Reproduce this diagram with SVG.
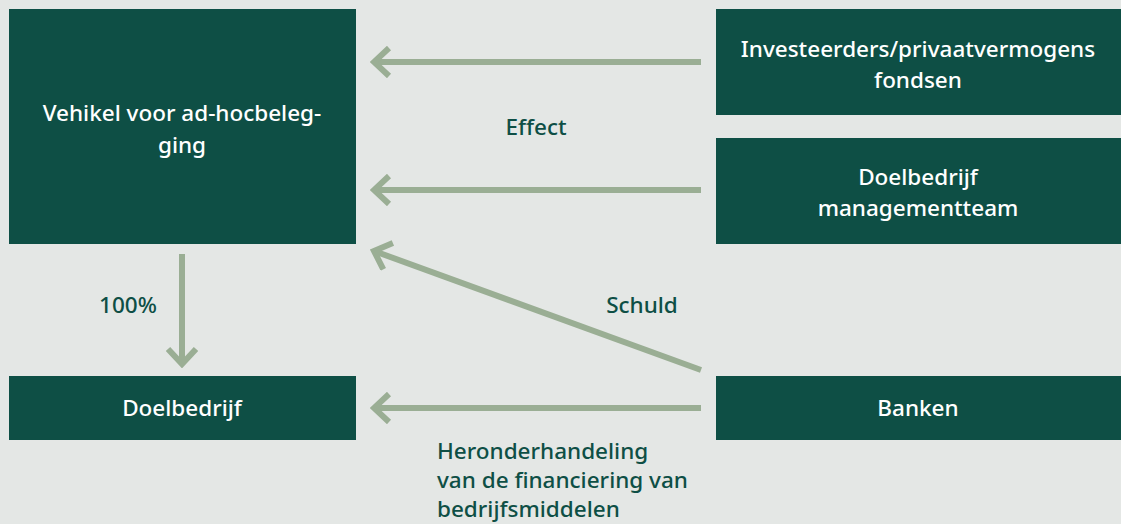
<svg xmlns="http://www.w3.org/2000/svg" width="1121" height="524" viewBox="0 0 1121 524">
<style>
.box{fill:#0e4f45}
.bt{fill:#ffffff;font-family:"Noto Sans",sans-serif;font-size:22.5px;font-weight:500;text-anchor:middle}
.lt{fill:#0e4f45;font-family:"Noto Sans",sans-serif;font-size:22.5px;font-weight:500}
.c{stroke:#9aae94;stroke-width:6;fill:none}
</style>
<defs>
<marker id="ah" markerUnits="userSpaceOnUse" markerWidth="24" markerHeight="32" refX="20" refY="16" orient="auto" viewBox="0 0 24 32">
<polyline points="5,2 20,16 5,30" fill="none" stroke="#9aae94" stroke-width="6"/>
</marker>
</defs>
<rect width="1121" height="524" fill="#e4e7e5"/>
<g id="vehikel"><rect class="box" x="9" y="9" width="347" height="235"/><text class="bt" x="182" y="121">Vehikel voor ad-hocbeleg-</text><text class="bt" x="182" y="153">ging</text></g>
<g id="investeerders"><rect class="box" x="716" y="9" width="405" height="106"/><text class="bt" x="918" y="57">Investeerders/privaatvermogens</text><text class="bt" x="918" y="88">fondsen</text></g>
<g id="management"><rect class="box" x="716" y="138" width="405" height="106"/><text class="bt" x="918" y="185">Doelbedrijf</text><text class="bt" x="918" y="216">managementteam</text></g>
<g id="doelbedrijf"><rect class="box" x="9" y="376" width="347" height="64"/><text class="bt" x="182" y="416">Doelbedrijf</text></g>
<g id="banken"><rect class="box" x="716" y="376" width="405" height="64"/><text class="bt" x="918" y="416">Banken</text></g>
<g id="connectors">
<line class="c" x1="701" y1="62" x2="374" y2="62" marker-end="url(#ah)"/>
<line class="c" x1="701" y1="190" x2="374" y2="190" marker-end="url(#ah)"/>
<line class="c" x1="701" y1="370" x2="374" y2="251" marker-end="url(#ah)"/>
<line class="c" x1="701" y1="408" x2="374" y2="408" marker-end="url(#ah)"/>
<line class="c" x1="182" y1="254" x2="182" y2="364" marker-end="url(#ah)"/>
<text class="lt" x="536" y="135" text-anchor="middle">Effect</text>
<text class="lt" x="642" y="313" text-anchor="middle">Schuld</text>
<text class="lt" x="128" y="313" text-anchor="middle">100%</text>
<text class="lt" x="437" y="459">Heronderhandeling</text>
<text class="lt" x="437" y="488">van de financiering van</text>
<text class="lt" x="437" y="517">bedrijfsmiddelen</text>
</g>
</svg>
